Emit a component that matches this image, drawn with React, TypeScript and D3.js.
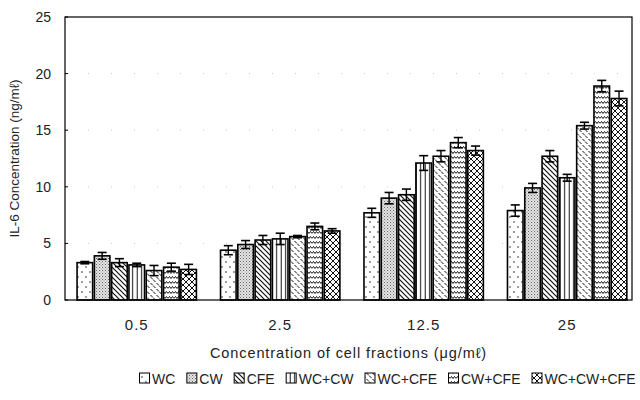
import React, { useEffect, useRef } from "react";
import * as d3 from "d3";

const groups = ["0.5", "2.5", "12.5", "25"];
const series = ["WC", "CW", "CFE", "WC+CW", "WC+CFE", "CW+CFE", "WC+CW+CFE"];
// values[series][group]
const valWC = [3.3, 4.4, 7.7, 7.9];
const valCW = [3.9, 4.9, 9.0, 9.9];
const valCFE = [3.3, 5.3, 9.3, 12.7];
const valWCCW = [3.1, 5.4, 12.1, 10.8];
const valWCCFE = [2.6, 5.6, 12.7, 15.4];
const valCWCFE = [2.9, 6.5, 13.9, 18.9];
const valAll = [2.7, 6.1, 13.2, 17.8];
const errWC = [0.1, 0.4, 0.4, 0.5];
const errCW = [0.3, 0.35, 0.5, 0.4];
const errCFE = [0.35, 0.4, 0.5, 0.5];
const errWCCW = [0.15, 0.5, 0.65, 0.3];
const errWCCFE = [0.45, 0.1, 0.5, 0.3];
const errCWCFE = [0.35, 0.3, 0.45, 0.5];
const errAll = [0.45, 0.2, 0.4, 0.65];
const values = [valWC, valCW, valCFE, valWCCW, valWCCFE, valCWCFE, valAll];
const errors = [errWC, errCW, errCFE, errWCCW, errWCCFE, errCWCFE, errAll];
const yTicks = [0, 5, 10, 15, 20, 25];

const FONT = "'Liberation Sans', Arial, Helvetica, sans-serif";

function Patterns() {
  return (
    <defs>
      <pattern id="p0" patternUnits="userSpaceOnUse" width="8" height="10">
        <rect width="8" height="10" fill="#fff" />
        <circle cx="2" cy="2" r="0.8" fill="#222" />
        <circle cx="6" cy="7" r="0.8" fill="#222" />
      </pattern>
      <pattern id="p1" patternUnits="userSpaceOnUse" width="3" height="3">
        <rect width="3" height="3" fill="#e4e4e4" />
        <rect x="0" y="0" width="1" height="1" fill="#666" />
        <rect x="1.5" y="1.5" width="1" height="1" fill="#888" />
      </pattern>
      <pattern id="p2" patternUnits="userSpaceOnUse" width="5" height="5">
        <rect width="5" height="5" fill="#fff" />
        <path d="M-1,-1 L6,6 M-1,4 L1,6 M4,-1 L6,1" stroke="#111" strokeWidth="1.2" />
      </pattern>
      <pattern id="p3" patternUnits="userSpaceOnUse" width="4.5" height="4">
        <rect width="4.5" height="4" fill="#fff" />
        <line x1="2.2" y1="0" x2="2.2" y2="4" stroke="#111" strokeWidth="1" />
      </pattern>
      <pattern id="p4" patternUnits="userSpaceOnUse" width="6" height="6">
        <rect width="6" height="6" fill="#fff" />
        <path d="M0.5,1 L3,3.5" stroke="#111" strokeWidth="1" />
        <path d="M3.5,4 L6,6.5 M-2.5,4 L0,6.5" stroke="#111" strokeWidth="1" />
      </pattern>
      <pattern id="p5" patternUnits="userSpaceOnUse" width="6" height="5">
        <rect width="6" height="5" fill="#fff" />
        <path d="M0,3.5 L1.5,1.5 L3,3.5 L4.5,1.5 L6,3.5" fill="none" stroke="#111" strokeWidth="1" />
      </pattern>
      <pattern id="p6" patternUnits="userSpaceOnUse" width="6" height="6">
        <rect width="6" height="6" fill="#fff" />
        <path d="M-1,-1 L7,7 M-1,7 L7,-1" stroke="#111" strokeWidth="1" />
      </pattern>
    </defs>
  );
}

export default function App() {
  const ref = useRef<SVGSVGElement>(null);
  const W = 640, H = 400;
  const left = 65, right = 632, top = 17, bottom = 300;

  useEffect(() => {
    const svg = d3.select(ref.current);
    svg.selectAll("g.chart").remove();
    const g = svg.append("g").attr("class", "chart");

    const x0 = d3.scaleBand<string>().domain(groups).range([left, right])
      .paddingInner(0.168).paddingOuter(0.06).align(0.7);
    const x1 = d3.scaleBand<string>().domain(series).range([0, x0.bandwidth()]).paddingInner(0.1);
    const y = d3.scaleLinear().domain([0, 25]).range([bottom, top]);

    // faint grid
    g.selectAll("line.grid").data(yTicks.slice(1, -1)).enter().append("line")
      .attr("x1", left).attr("x2", right).attr("y1", (d) => y(d)).attr("y2", (d) => y(d))
      .attr("stroke", "#bbb").attr("stroke-width", 0.8).attr("stroke-dasharray", "1,22");

    // bars
    series.forEach((s, si) => {
      const sg = g.append("g");
      groups.forEach((grp, gi) => {
        const v = values[si][gi];
        const e = errors[si][gi];
        const bx = (x0(grp) as number) + (x1(s) as number);
        const bw = x1.bandwidth();
        sg.append("rect").attr("x", bx).attr("y", y(v)).attr("width", bw).attr("height", y(0) - y(v))
          .attr("fill", `url(#p${si})`).attr("stroke", "#000").attr("stroke-width", 1.6);
        const cx = bx + bw / 2;
        sg.append("line").attr("x1", cx).attr("x2", cx).attr("y1", y(v - e)).attr("y2", y(v + e))
          .attr("stroke", "#000").attr("stroke-width", 1.4);
        [v - e, v + e].forEach((t) => {
          sg.append("line").attr("x1", cx - 4.5).attr("x2", cx + 4.5).attr("y1", y(t)).attr("y2", y(t))
            .attr("stroke", "#000").attr("stroke-width", 1.6);
        });
      });
    });

    // frame
    g.append("rect").attr("x", left).attr("y", top).attr("width", right - left).attr("height", bottom - top)
      .attr("fill", "none").attr("stroke", "#000").attr("stroke-width", 1.2);

    // y ticks
    g.selectAll("line.yt").data(yTicks).enter().append("line")
      .attr("x1", left).attr("x2", left + 3).attr("y1", (d) => y(d)).attr("y2", (d) => y(d))
      .attr("stroke", "#000");
    g.selectAll("text.yl").data(yTicks).enter().append("text")
      .attr("x", 51).attr("y", (d) => y(d) + 5).attr("text-anchor", "end")
      .attr("font-family", FONT).attr("font-size", 14).attr("fill", "#222").text((d) => String(d));

    // x labels
    g.selectAll("text.xl").data(groups).enter().append("text")
      .attr("x", (d) => (x0(d) as number) + x0.bandwidth() / 2).attr("y", 330).attr("text-anchor", "middle")
      .attr("font-family", FONT).attr("font-size", 15).attr("letter-spacing", 1).attr("fill", "#222").text((d) => d);

    // axis titles
    g.append("text").attr("x", (left + right) / 2).attr("y", 358).attr("text-anchor", "middle")
      .attr("font-family", FONT).attr("font-size", 14.5).attr("letter-spacing", 0.9).attr("fill", "#222")
      .text("Concentration of cell fractions (μg/mℓ)");
    g.append("text").attr("transform", `translate(19,${(top + bottom) / 2}) rotate(-90)`).attr("text-anchor", "middle")
      .attr("font-family", FONT).attr("font-size", 13.5).attr("fill", "#222")
      .text("IL-6 Concentration (ng/mℓ)");

    // legend
    const lg = g.append("g");
    const items: { x: number; w: number }[] = [];
    let cursor = 0;
    const gap = 11;
    const texts = series.map((s) => {
      const t = lg.append("text").attr("y", 384).attr("font-family", FONT).attr("font-size", 14)
        .attr("fill", "#222").text(s);
      const w = (t.node() as SVGTextElement).getComputedTextLength();
      items.push({ x: cursor, w });
      cursor += 13 + w + gap;
      return t;
    });
    const total = cursor - gap;
    const start = 636 - total;
    series.forEach((s, si) => {
      const it = items[si];
      lg.append("rect").attr("x", start + it.x).attr("y", 373).attr("width", 10).attr("height", 10)
        .attr("fill", `url(#p${si})`).attr("stroke", "#000").attr("stroke-width", 1);
      texts[si].attr("x", start + it.x + 12.5);
    });
  }, []);

  return (
    <svg ref={ref} width={W} height={H} style={{ display: "block", position: "absolute", left: 0, top: 0, background: "#fff" }}>
      <Patterns />
    </svg>
  );
}
